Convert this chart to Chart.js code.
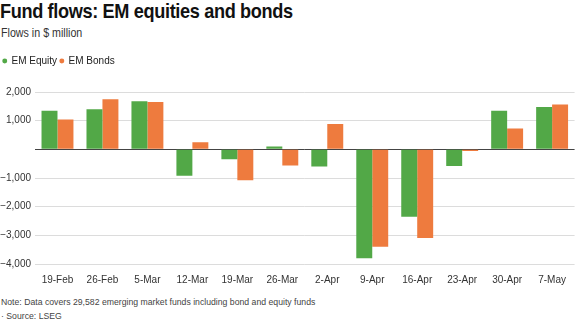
<!DOCTYPE html>
<html>
<head>
<meta charset="utf-8">
<script src="https://cdn.jsdelivr.net/npm/chart.js@4"></script>
<style>
  html, body { margin: 0; padding: 0; background: #fff; }
  body { width: 576px; height: 323px; position: relative; overflow: hidden; font-family: "Liberation Sans", Arial, sans-serif; }
  .t { position: absolute; white-space: nowrap; transform-origin: 0 0; }
  #title { left: 0px; top: -1px; font-size: 20.5px; font-weight: bold; color: #111; letter-spacing: -0.4px; transform: scaleX(0.885); }
  #subtitle { left: 1px; top: 26px; font-size: 12px; color: #333; transform: scaleX(0.89); }
  #note { left: 1px; top: 297px; font-size: 9px; color: #444; transform: scaleX(0.965); }
  #source { left: 1px; top: 311px; font-size: 9px; color: #444; transform: scaleX(0.965); }
  #wrap { position: absolute; left: 0; top: 53px; width: 576px; height: 243px; }
</style>
</head>
<body>
<div id="title" class="t">Fund flows: EM equities and bonds</div>
<div id="subtitle" class="t">Flows in $ million</div>
<div id="wrap"><canvas id="c"></canvas></div>
<div id="note" class="t">Note: Data covers 29,582 emerging market funds including bond and equity funds</div>
<div id="source" class="t">· Source: LSEG</div>
<script>
const categories = ["19-Feb","26-Feb","5-Mar","12-Mar","19-Mar","26-Mar","2-Apr","9-Apr","16-Apr","23-Apr","30-Apr","7-May"];
const emEquity = [1350, 1400, 1680, -920, -350, 100, -600, -3800, -2350, -580, 1350, 1480];
const emBonds  = [1040, 1750, 1650, 250, -1080, -560, 880, -3400, -3090, -60, 730, 1560];
const yTicks = [2000, 1000, 0, -1000, -2000, -3000, -4000];

function fmt(v) {
  const s = Math.abs(v).toLocaleString("en-US");
  return v < 0 ? "\u2212" + s : (v === 0 ? "" : s);
}

const legendHeight = {
  id: "legendHeight",
  beforeInit(chart) {
    const orig = chart.legend.fit;
    chart.legend.fit = function () {
      orig.call(this);
      this.height = 39;
    };
  }
};

new Chart(document.getElementById("c"), {
  type: "bar",
  data: {
    labels: categories,
    datasets: [
      { label: "EM Equity", data: emEquity, backgroundColor: "#52a847", borderWidth: 0 },
      { label: "EM Bonds", data: emBonds, backgroundColor: "#ee7b3e", borderWidth: 0 }
    ]
  },
  plugins: [legendHeight],
  options: {
    responsive: true,
    maintainAspectRatio: false,
    animation: false,
    devicePixelRatio: 1,
    layout: { padding: 0 },
    datasets: { bar: { categoryPercentage: 0.71, barPercentage: 1.0 } },
    plugins: {
      legend: {
        display: true,
        position: "top",
        align: "start",
        labels: {
          usePointStyle: true,
          pointStyle: "circle",
          boxWidth: 3.5,
          boxHeight: 3.5,
          padding: 3,
          color: "#222",
          font: { family: "Liberation Sans", size: 10 }
        }
      },
      tooltip: { enabled: false },
      title: { display: false }
    },
    scales: {
      x: {
        grid: { display: false, drawTicks: false },
        border: { display: false },
        ticks: { color: "#333", font: { family: "Liberation Sans", size: 10 }, padding: 10, maxRotation: 0, autoSkip: false }
      },
      y: {
        min: -4000,
        max: 2000,
        afterBuildTicks: (axis) => { axis.ticks = yTicks.map(v => ({ value: v })); },
        afterFit: (axis) => { axis.width = 35; },
        grid: {
          drawTicks: false,
          color: (ctx) => ctx.tick && ctx.tick.value === 0 ? "#444" : "#dcdcdc",
          lineWidth: 1
        },
        border: { display: false },
        ticks: {
          color: "#333",
          font: { family: "Liberation Sans", size: 10 },
          padding: 4,
          callback: (v) => fmt(v)
        }
      }
    }
  }
});
</script>
</body>
</html>
